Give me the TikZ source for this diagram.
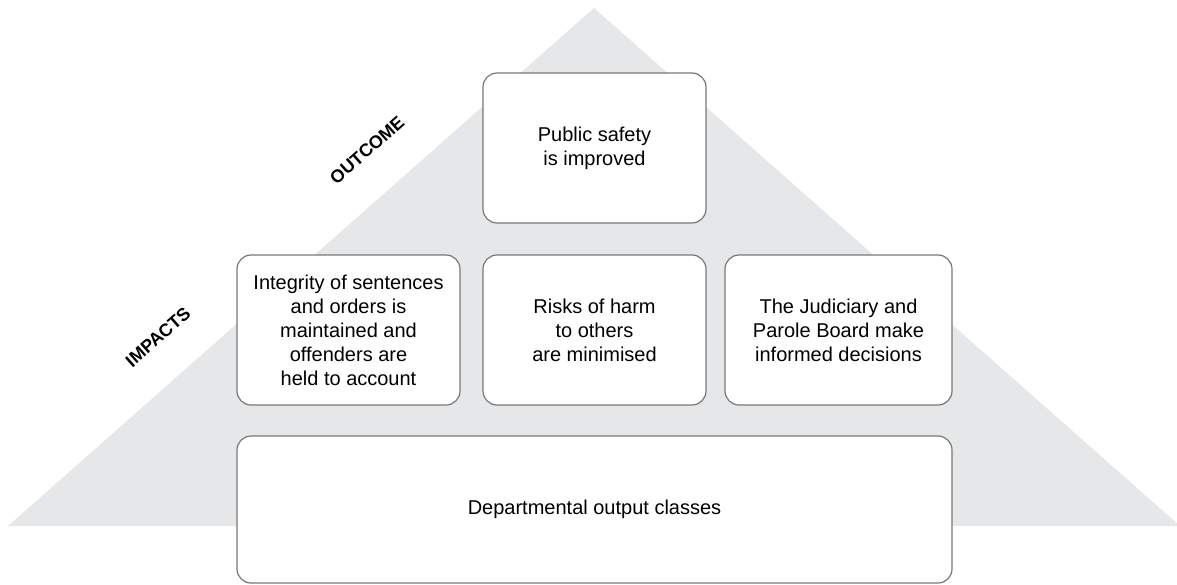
\documentclass[tikz,border=0pt]{standalone}
\usepackage{fontspec}
\setmainfont{Liberation Sans}
\definecolor{pyramid}{RGB}{230, 231, 232}
\definecolor{boxline}{RGB}{120, 120, 120}

\begin{document}
\begin{tikzpicture}[x=1pt, y=-1pt,
  tier/.style={draw=boxline, line width=1.2pt, rounded corners=14pt, fill=white,
    align=center, inner sep=0pt, font=\fontsize{20}{24}\selectfont},
  level/.style={font=\fontsize{18}{20}\selectfont\bfseries, rotate=41.5}]
  \clip (0,0) rectangle (1177,584);
  % grey pyramid behind the boxes
  \fill[pyramid] (594,8) -- (1180,526) -- (8,526) -- cycle;
  \node[tier, minimum width=223pt, minimum height=150pt] (outcome) at (594.5,148) {Public safety\\is improved};
  \node[tier, minimum width=223pt, minimum height=150pt] (integrity) at (348.5,330) {Integrity of sentences\\and orders is\\maintained and\\offenders are\\held to account};
  \node[tier, minimum width=223pt, minimum height=150pt] (risks) at (594.5,330) {Risks of harm\\to others\\are minimised};
  \node[tier, minimum width=227pt, minimum height=150pt] (parole) at (838.5,330) {The Judiciary and\\Parole Board make\\informed decisions};
  \node[tier, minimum width=715pt, minimum height=147pt] (output) at (594.5,509.5) {Departmental output classes};
  % side labels along the slope
  \node[level] (lbloutcome) at (367,150) {OUTCOME};
  \node[level] (lblimpacts) at (158,337) {IMPACTS};
\end{tikzpicture}
\end{document}
